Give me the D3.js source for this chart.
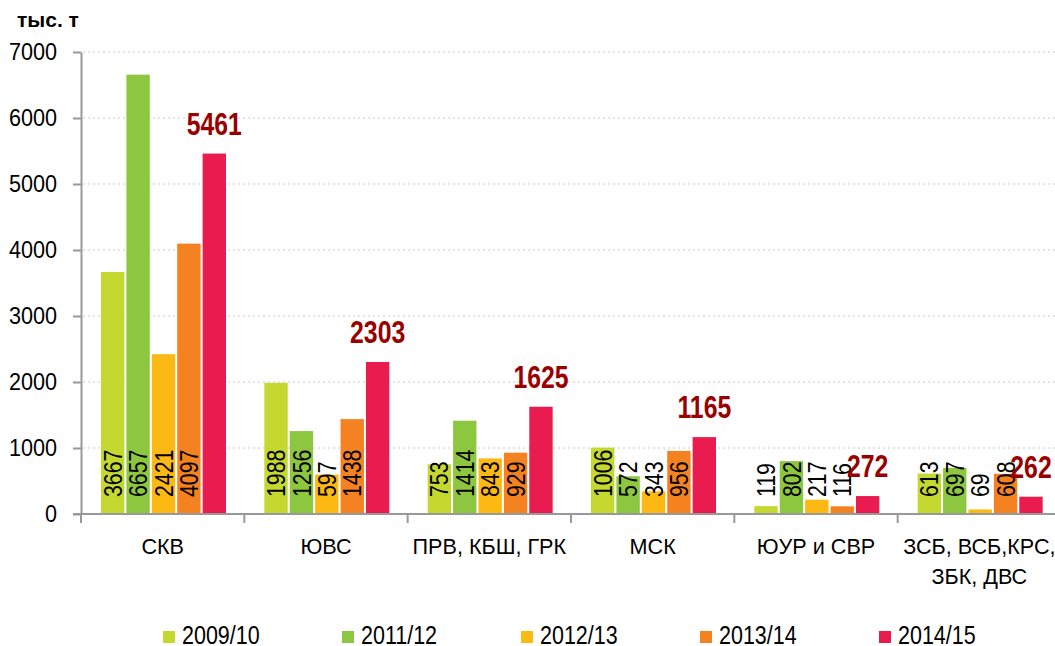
<!DOCTYPE html>
<html lang="ru">
<head>
<meta charset="UTF-8"/>
<title>chart</title>
<script src="https://d3js.org/d3.v7.min.js"></script>
<style>
  body { margin: 0; background: #fff; }
  text { font-family: "Liberation Sans", Arial, sans-serif; fill: #000; }
  .grid line { stroke: #c8c8c8; stroke-dasharray: 2,3; }
</style>
</head>
<body>
<div id="chart"></div>
<script>
// categories (regions), each with its label lines
var categories = ["СКВ", "ЮВС", "ПРВ, КБШ, ГРК", "МСК", "ЮУР и СВР", "ЗСБ, ВСБ,КРС, ЗБК, ДВС"];
var catLines = [["СКВ"], ["ЮВС"], ["ПРВ, КБШ, ГРК"], ["МСК"], ["ЮУР и СВР"], ["ЗСБ, ВСБ,КРС,", "ЗБК, ДВС"]];

var seasons = ["2009/10", "2011/12", "2012/13", "2013/14", "2014/15"];
var colors = ["#c4d830", "#8dc63f", "#fdb913", "#f58220", "#e91b4f"];

// thousand tonnes
var v0910 = [3667, 1988, 753, 1006, 119, 613];
var v1112 = [6657, 1256, 1414, 572, 802, 697];
var v1213 = [2421, 597, 843, 343, 217, 69];
var v1314 = [4097, 1438, 929, 956, 116, 608];
var v1415 = [5461, 2303, 1625, 1165, 272, 262];
var values = [v0910, v1112, v1213, v1314, v1415];

var yTicks = [0, 1000, 2000, 3000, 4000, 5000, 6000, 7000];

var W = 1055, H = 646;
var plotL = 81, plotR = 1061, plotT = 52, plotB = 514;

// no narrow font installed, so Liberation Sans gets squeezed horizontally
function sq(k) { return "scale(" + k + ",1)"; }

var svg = d3.select("#chart").append("svg")
    .attr("width", W)
    .attr("height", H);

var x0 = d3.scaleBand().domain(categories).range([plotL, plotR]);
var x1 = d3.scaleBand().domain(seasons).range([20, 145]).paddingInner(0.08);
var y = d3.scaleLinear().domain([0, 7000]).range([plotB, plotT]);

// dotted grid
svg.append("g").attr("class", "grid")
  .selectAll("line")
  .data(yTicks.filter(function(d) { return d > 0; }))
  .join("line")
    .attr("x1", plotL + 2).attr("x2", W)
    .attr("y1", function(d) { return y(d); })
    .attr("y2", function(d) { return y(d); });

// y axis
var yAxis = svg.append("g")
    .attr("transform", "translate(" + plotL + ",0)")
    .call(d3.axisLeft(y).tickValues(yTicks).tickFormat(d3.format("d")).tickSize(8).tickSizeOuter(0));
yAxis.select(".domain").attr("stroke", "#999").attr("stroke-width", 2);
yAxis.selectAll(".tick line").attr("stroke", "#999").attr("stroke-width", 2);
yAxis.selectAll(".tick text")
    .attr("x", 0)
    .attr("transform", "translate(-24,0) " + sq(0.9))
    .style("font-size", "24px")
    .attr("fill", "#000");

svg.append("text")
    .attr("x", 17).attr("y", 27)
    .style("font-size", "21px").style("font-weight", "bold")
    .text("тыс. т");

// bars
var groups = svg.append("g").selectAll("g")
  .data(categories)
  .join("g")
    .attr("transform", function(d) { return "translate(" + x0(d) + ",0)"; });

groups.selectAll("rect")
  .data(function(d, i) { return seasons.map(function(s, j) { return {s: s, v: values[j][i], j: j}; }); })
  .join("rect")
    .attr("x", function(d) { return x1(d.s); })
    .attr("width", x1.bandwidth())
    .attr("y", function(d) { return y(d.v); })
    .attr("height", function(d) { return y(0) - y(d.v); })
    .attr("fill", function(d) { return colors[d.j]; });

// rotated labels for the first four seasons
groups.selectAll("text.inbar")
  .data(function(d, i) { return seasons.slice(0, 4).map(function(s, j) { return {s: s, v: values[j][i]}; }); })
  .join("text")
    .attr("class", "inbar")
    .attr("transform", function(d) {
      return "translate(" + (x1(d.s) + x1.bandwidth() / 2) + "," + (y(0) - 17) + ") rotate(-90) " + sq(0.82);
    })
    .attr("dy", "0.35em")
    .style("font-size", "26px")
    .text(function(d) { return d.v; });

// bold labels above the last season
groups.append("text")
    .attr("transform", function(d, i) {
      return "translate(" + (x1("2014/15") + x1.bandwidth() / 2) + "," + (y(v1415[i]) - 19) + ") " + sq(0.8);
    })
    .attr("text-anchor", "middle")
    .style("font-size", "31px").style("font-weight", "bold")
    .style("fill", "#990000")
    .text(function(d, i) { return v1415[i]; });

// x axis
var xAxis = svg.append("g");
xAxis.append("line")
    .attr("x1", plotL - 8).attr("x2", W)
    .attr("y1", plotB).attr("y2", plotB)
    .attr("stroke", "#999").attr("stroke-width", 2);
xAxis.selectAll("line.tk")
  .data(categories)
  .join("line")
    .attr("class", "tk")
    .attr("x1", function(d) { return x0(d); })
    .attr("x2", function(d) { return x0(d); })
    .attr("y1", plotB).attr("y2", plotB + 9)
    .attr("stroke", "#999").attr("stroke-width", 2);

xAxis.selectAll("text")
  .data(categories)
  .join("text")
    .attr("transform", function(d) {
      return "translate(" + (x0(d) + x0.bandwidth() / 2) + ",554) " + sq(0.96);
    })
    .attr("text-anchor", "middle")
    .style("font-size", "22.5px")
    .each(function(d, i) {
      var t = d3.select(this);
      catLines[i].forEach(function(line, k) {
        t.append("tspan")
          .attr("x", 0)
          .attr("dy", k === 0 ? 0 : 30)
          .text(line);
      });
    });

// legend
var legend = svg.append("g").selectAll("g")
  .data(seasons)
  .join("g")
    .attr("transform", function(d, i) { return "translate(" + (163 + i * 179) + ",637)"; });
legend.append("rect")
    .attr("x", 0).attr("y", -6)
    .attr("width", 12).attr("height", 12)
    .attr("fill", function(d, i) { return colors[i]; });
legend.append("text")
    .attr("transform", "translate(19,7) " + sq(0.86))
    .style("font-size", "25px")
    .text(function(d) { return d; });
</script>
</body>
</html>
